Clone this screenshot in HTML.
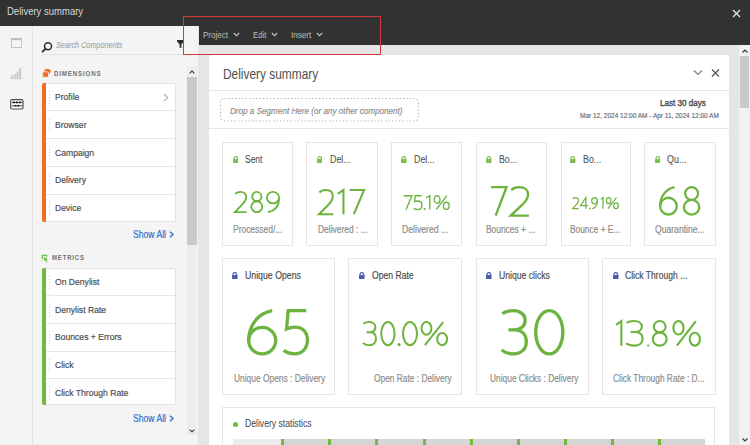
<!DOCTYPE html>
<html><head><meta charset="utf-8"><style>
html,body{margin:0;padding:0;width:750px;height:445px;overflow:hidden;background:#e5e5e5;font-family:"Liberation Sans",sans-serif;}
.a{position:absolute;box-sizing:border-box;}
.t{position:absolute;white-space:nowrap;transform-origin:0 0;font-family:"Liberation Sans",sans-serif;}
</style></head><body>
<!-- header -->
<div class="a" style="left:0;top:0;width:750px;height:26px;background:#323232"></div>
<svg class="a" style="left:732px;top:9px" width="9" height="9" viewBox="0 0 9 9"><path d="M1 1L8 8M8 1L1 8" stroke="#e6e6e6" stroke-width="1.3"/></svg>
<!-- left rail -->
<div class="a" style="left:0;top:26px;width:33px;height:419px;background:#f4f4f4;border-right:1px solid #e4e4e4"></div>
<svg class="a" style="left:11px;top:38px" width="11" height="10" viewBox="0 0 11 10"><rect x="0.5" y="0.5" width="10" height="9" fill="none" stroke="#c4c4c4"/><rect x="0.5" y="0.5" width="10" height="1.6" fill="#bdbdbd"/></svg>
<svg class="a" style="left:10px;top:67px" width="13" height="13" viewBox="0 0 13 13"><g fill="#c8c8c8"><rect x="1" y="8.5" width="2" height="2.5"/><rect x="3.8" y="7" width="2" height="4"/><rect x="6.5" y="4.5" width="2" height="6.5"/><rect x="9.2" y="1" width="2" height="10"/><rect x="0.5" y="11.2" width="11.5" height="1"/></g></svg>
<svg class="a" style="left:10px;top:98.5px" width="14" height="11" viewBox="0 0 14 11"><rect x="0.7" y="0.7" width="12.3" height="9.3" rx="1.5" fill="#fff" stroke="#4a4a4a" stroke-width="1.2"/><g stroke="#3a3a3a" stroke-width="1"><line x1="2" y1="3.5" x2="12" y2="3.5"/><line x1="2" y1="6.8" x2="12" y2="6.8"/></g><g fill="#2a2a2a"><circle cx="3.8" cy="3.4" r="1.1"/><circle cx="6.8" cy="3.4" r="1.1"/><circle cx="9.9" cy="3.4" r="1.1"/><circle cx="5.5" cy="6.8" r="1"/><circle cx="8.3" cy="6.8" r="1"/></g></svg>
<!-- left panel -->
<div class="a" style="left:33px;top:26px;width:165px;height:419px;background:#f4f4f4"></div>
<svg class="a" style="left:41px;top:40.5px" width="12" height="12" viewBox="0 0 12 12"><circle cx="7" cy="5.2" r="3.5" fill="none" stroke="#2e2e2e" stroke-width="1.5"/><line x1="4.6" y1="7.6" x2="1.6" y2="10.6" stroke="#2e2e2e" stroke-width="1.9" stroke-linecap="round"/></svg>
<svg class="a" style="left:177px;top:39.5px" width="7" height="8.5" viewBox="0 0 7 8.5"><path d="M0 0H7V1.6L4.4 4.2V8.3L2.6 7.4V4.2L0 1.6Z" fill="#2a2a2a"/></svg>
<div class="a" style="left:42px;top:54px;width:142px;height:1px;background:#e2e2e2"></div>
<!-- dims icon -->
<svg class="a" style="left:41.5px;top:69px" width="9" height="9" viewBox="0 0 9 9"><rect x="2.3" y="0" width="6.4" height="4.4" rx="2" fill="#ef6e1f"/><path d="M0.6 3.3Q3.2 1.9 6.5 3.3V7.3Q6.5 8.2 5.6 8.2H1.5Q0.6 8.2 0.6 7.3Z" fill="#ef6e1f" stroke="#f4f4f4" stroke-width="0.7"/></svg>
<svg class="a" style="left:41px;top:253.5px" width="8" height="9" viewBox="0 0 8 9"><path d="M1.3 5.2V1.3H5.7V2.8" fill="none" stroke="#6fbe3f" stroke-width="1.3"/><path d="M2.8 2.8L7 5.3L5.4 5.8L6.5 8.1L5.6 8.6L4.5 6.3L3.3 7.3Z" fill="#6fbe3f"/></svg>
<!-- dims list -->
<div class="a" style="left:42px;top:82.5px;width:134px;height:139.3px;background:#fff;border:1px solid #e2e2e2;border-radius:2px"></div>
<div class="a" style="left:42px;top:82.5px;width:4px;height:139.3px;background:#ef6e1f;border-radius:2px 0 0 2px"></div>
<div class="a" style="left:46px;top:110.2px;width:130px;height:1px;background:#e6e6e6"></div>
<div class="a" style="left:46px;top:138.3px;width:130px;height:1px;background:#e6e6e6"></div>
<div class="a" style="left:46px;top:166.3px;width:130px;height:1px;background:#e6e6e6"></div>
<div class="a" style="left:46px;top:194.2px;width:130px;height:1px;background:#e6e6e6"></div>
<svg class="a" style="left:162.5px;top:92.5px" width="6" height="9" viewBox="0 0 6 9"><path d="M1 1L4.7 4.5L1 8" fill="none" stroke="#bcbcbc" stroke-width="1.4"/></svg>
<!-- metrics list -->
<div class="a" style="left:42px;top:267.5px;width:134px;height:137.8px;background:#fff;border:1px solid #e2e2e2;border-radius:2px"></div>
<div class="a" style="left:42px;top:267.5px;width:4px;height:137.8px;background:#6fba3f;border-radius:2px 0 0 2px"></div>
<div class="a" style="left:46px;top:295.3px;width:130px;height:1px;background:#e6e6e6"></div>
<div class="a" style="left:46px;top:322.9px;width:130px;height:1px;background:#e6e6e6"></div>
<div class="a" style="left:46px;top:350.6px;width:130px;height:1px;background:#e6e6e6"></div>
<div class="a" style="left:46px;top:378.3px;width:130px;height:1px;background:#e6e6e6"></div>
<!-- grips -->
<svg class="a" style="left:49px;top:82px" width="2" height="330" viewBox="0 0 2 330">
<g fill="#c8c8c8" id="g1">
<rect x="0" y="9" width="1" height="1"/><rect x="0" y="12" width="1" height="1"/><rect x="0" y="15" width="1" height="1"/><rect x="0" y="18" width="1" height="1"/><rect x="0" y="21" width="1" height="1"/>
</g>
<use href="#g1" y="27.6"/><use href="#g1" y="55.2"/><use href="#g1" y="82.8"/><use href="#g1" y="110.4"/>
<use href="#g1" y="185"/><use href="#g1" y="212.6"/><use href="#g1" y="240.2"/><use href="#g1" y="267.8"/><use href="#g1" y="295.4"/>
</svg>
<svg class="a" style="left:168.5px;top:230.5px" width="5" height="7" viewBox="0 0 5 7"><path d="M1 0.8L4 3.5L1 6.2" fill="none" stroke="#2f6fce" stroke-width="1.3"/></svg>
<svg class="a" style="left:168.5px;top:414.5px" width="5" height="7" viewBox="0 0 5 7"><path d="M1 0.8L4 3.5L1 6.2" fill="none" stroke="#2f6fce" stroke-width="1.3"/></svg>
<!-- left scrollbar -->
<div class="a" style="left:187px;top:66px;width:10px;height:369px;background:#ededed"></div>
<div class="a" style="left:187px;top:77px;width:10px;height:167.5px;background:#c9c9c9"></div>
<svg class="a" style="left:189px;top:70px" width="6" height="4" viewBox="0 0 6 4"><path d="M0.6 3.4L3 1L5.4 3.4" fill="none" stroke="#3a3a3a" stroke-width="1.1"/></svg>
<svg class="a" style="left:189px;top:428.5px" width="6" height="4" viewBox="0 0 6 4"><path d="M0.6 0.6L3 3L5.4 0.6" fill="none" stroke="#444" stroke-width="1.2"/></svg>
<!-- main -->
<div class="a" style="left:199px;top:26px;width:551px;height:19px;background:#323232"></div>
<svg class="a" style="left:233px;top:32px" width="7" height="5" viewBox="0 0 7 5"><path d="M0.8 1L3.5 3.7L6.2 1" fill="none" stroke="#c4c4c4" stroke-width="1.1"/></svg>
<svg class="a" style="left:271px;top:32px" width="7" height="5" viewBox="0 0 7 5"><path d="M0.8 1L3.5 3.7L6.2 1" fill="none" stroke="#c4c4c4" stroke-width="1.1"/></svg>
<svg class="a" style="left:316px;top:32px" width="7" height="5" viewBox="0 0 7 5"><path d="M0.8 1L3.5 3.7L6.2 1" fill="none" stroke="#c4c4c4" stroke-width="1.1"/></svg>
<!-- right scrollbar -->
<div class="a" style="left:739px;top:45px;width:11px;height:400px;background:#f1f1f1"></div>
<div class="a" style="left:740px;top:56px;width:9px;height:52px;background:#c9c9c9"></div>
<svg class="a" style="left:741.5px;top:49px" width="6" height="4" viewBox="0 0 6 4"><path d="M0.5 3.5L3 1L5.5 3.5" fill="none" stroke="#333" stroke-width="1.1"/></svg>
<svg class="a" style="left:741.5px;top:438px" width="6" height="4" viewBox="0 0 6 4"><path d="M0.5 0.5L3 3L5.5 0.5" fill="none" stroke="#333" stroke-width="1.1"/></svg>
<!-- panel -->
<div class="a" style="left:208.5px;top:55px;width:520.5px;height:400px;background:#fff;border-radius:3px"></div>
<div class="a" style="left:208.5px;top:90px;width:520.5px;height:1px;background:#e8e8e8"></div>
<div class="a" style="left:208.5px;top:128px;width:520.5px;height:1px;background:#e8e8e8"></div>
<svg class="a" style="left:693px;top:69px" width="10" height="7" viewBox="0 0 10 7"><path d="M1 1.5L5 5.5L9 1.5" fill="none" stroke="#808080" stroke-width="1.2"/></svg>
<svg class="a" style="left:711px;top:69px" width="9" height="8" viewBox="0 0 9 8"><path d="M1 0.5L8 7.5M8 0.5L1 7.5" stroke="#5a5a5a" stroke-width="1.4"/></svg>
<svg class="a" style="left:219px;top:96.5px" width="202" height="26"><rect x="1.5" y="1.5" width="198" height="22.5" rx="4" fill="none" stroke="#b0b0b0" stroke-width="1.1" stroke-dasharray="1.3 2.2"/></svg>
<!-- row1 cards -->
<div class="a" style="left:222.3px;top:142.2px;width:70.6px;height:104px;border:1px solid #e6e6e6"></div>
<div class="a" style="left:306.4px;top:142.2px;width:71.2px;height:104px;border:1px solid #e6e6e6"></div>
<div class="a" style="left:391.4px;top:142.2px;width:70.4px;height:104px;border:1px solid #e6e6e6"></div>
<div class="a" style="left:476px;top:142.2px;width:70.8px;height:104px;border:1px solid #e6e6e6"></div>
<div class="a" style="left:560.8px;top:142.2px;width:70px;height:104px;border:1px solid #e6e6e6"></div>
<div class="a" style="left:644.4px;top:142.2px;width:71.4px;height:104px;border:1px solid #e6e6e6"></div>
<!-- row2 cards -->
<div class="a" style="left:222.4px;top:258.4px;width:112.8px;height:137px;border:1px solid #e6e6e6"></div>
<div class="a" style="left:348.3px;top:258.4px;width:113.8px;height:137px;border:1px solid #e6e6e6"></div>
<div class="a" style="left:476.1px;top:258.4px;width:112.6px;height:137px;border:1px solid #e6e6e6"></div>
<div class="a" style="left:602.4px;top:258.4px;width:113.4px;height:137px;border:1px solid #e6e6e6"></div>
<!-- locks -->
<svg width="0" height="0" style="position:absolute"><defs>
<g id="lk"><path d="M1.1 3.4V2.5A1.9 1.9 0 0 1 4.9 2.5V3.4" fill="none" stroke="currentColor" stroke-width="1.3"/><rect x="0" y="3.1" width="6" height="4.1" rx="0.6" fill="currentColor"/></g>
</defs></svg>
<svg class="a" style="left:232.5px;top:156.0px;color:#7cc052" width="5.5" height="6.9" viewBox="0 0 6 7.2" preserveAspectRatio="none"><use href="#lk"/></svg>
<svg class="a" style="left:316.8px;top:156.0px;color:#7cc052" width="5.5" height="6.9" viewBox="0 0 6 7.2" preserveAspectRatio="none"><use href="#lk"/></svg>
<svg class="a" style="left:401.3px;top:156.0px;color:#7cc052" width="5.5" height="6.9" viewBox="0 0 6 7.2" preserveAspectRatio="none"><use href="#lk"/></svg>
<svg class="a" style="left:486.3px;top:156.0px;color:#7cc052" width="5.5" height="6.9" viewBox="0 0 6 7.2" preserveAspectRatio="none"><use href="#lk"/></svg>
<svg class="a" style="left:570.3px;top:156.0px;color:#7cc052" width="5.5" height="6.9" viewBox="0 0 6 7.2" preserveAspectRatio="none"><use href="#lk"/></svg>
<svg class="a" style="left:654.8px;top:156.0px;color:#7cc052" width="5.5" height="6.9" viewBox="0 0 6 7.2" preserveAspectRatio="none"><use href="#lk"/></svg>
<svg class="a" style="left:232.3px;top:272.0px;color:#4a5cae" width="5.6" height="6.9" viewBox="0 0 6 7.2" preserveAspectRatio="none"><use href="#lk"/></svg>
<svg class="a" style="left:359.0px;top:272.0px;color:#4a5cae" width="5.6" height="6.9" viewBox="0 0 6 7.2" preserveAspectRatio="none"><use href="#lk"/></svg>
<svg class="a" style="left:486.0px;top:272.0px;color:#4a5cae" width="5.6" height="6.9" viewBox="0 0 6 7.2" preserveAspectRatio="none"><use href="#lk"/></svg>
<svg class="a" style="left:613.3px;top:272.0px;color:#4a5cae" width="5.6" height="6.9" viewBox="0 0 6 7.2" preserveAspectRatio="none"><use href="#lk"/></svg>
<!-- stats -->
<div class="a" style="left:222.2px;top:406.5px;width:493.1px;height:60px;border:1px solid #e6e6e6"></div>
<div class="a" style="left:232.6px;top:421.5px;width:5px;height:5px;border-radius:50%;background:#6fba3f"></div>
<div class="a" style="left:232.6px;top:439.3px;width:472.3px;height:10px;background:#d5d5d5"></div>
<div class="a" style="left:232.6px;top:439.3px;width:48.4px;height:10px;background:#ececec"></div>
<div class="a" style="left:281px;top:439.3px;width:3px;height:10px;background:#6fba3f"></div>
<div class="a" style="left:328px;top:439.3px;width:3px;height:10px;background:#6fba3f"></div>
<div class="a" style="left:375.3px;top:439.3px;width:3px;height:10px;background:#6fba3f"></div>
<div class="a" style="left:422.5px;top:439.3px;width:3px;height:10px;background:#6fba3f"></div>
<div class="a" style="left:469.5px;top:439.3px;width:3px;height:10px;background:#6fba3f"></div>
<div class="a" style="left:516.8px;top:439.3px;width:3px;height:10px;background:#6fba3f"></div>
<div class="a" style="left:563.8px;top:439.3px;width:3px;height:10px;background:#6fba3f"></div>
<div class="a" style="left:610.7px;top:439.3px;width:3px;height:10px;background:#6fba3f"></div>
<div class="a" style="left:658px;top:439.3px;width:3px;height:10px;background:#6fba3f"></div>
<!-- red highlight -->
<div class="a" style="left:183px;top:16.3px;width:198px;height:38.5px;border:1px solid #d03a3a"></div>

<span class="t" style="left:6.70px;top:5.60px;font-size:11.5px;line-height:11.5px;color:#dadada;font-weight:400;font-style:normal;transform:scaleX(0.8270);letter-spacing:0px">Delivery summary</span>
<span class="t" style="left:203.40px;top:29.50px;font-size:9.5px;line-height:9.5px;color:#bdbdbd;font-weight:400;font-style:normal;transform:scaleX(0.8420);letter-spacing:0px">Project</span>
<span class="t" style="left:253.20px;top:29.50px;font-size:9.5px;line-height:9.5px;color:#bdbdbd;font-weight:400;font-style:normal;transform:scaleX(0.8189);letter-spacing:0px">Edit</span>
<span class="t" style="left:291.10px;top:29.50px;font-size:9.5px;line-height:9.5px;color:#bdbdbd;font-weight:400;font-style:normal;transform:scaleX(0.8541);letter-spacing:0px">Insert</span>
<span class="t" style="left:56.30px;top:40.60px;font-size:9.2px;line-height:9.2px;color:#a3a3a3;font-weight:400;font-style:italic;transform:scaleX(0.7925);letter-spacing:0px;-webkit-text-stroke:0.1px #a3a3a3">Search Components</span>
<span class="t" style="left:53.90px;top:69.70px;font-size:7.3px;line-height:7.3px;color:#707070;font-weight:700;font-style:normal;transform:scaleX(0.8437);letter-spacing:1.0px">DIMENSIONS</span>
<span class="t" style="left:51.90px;top:254.30px;font-size:7.3px;line-height:7.3px;color:#707070;font-weight:700;font-style:normal;transform:scaleX(0.8237);letter-spacing:1.0px">METRICS</span>
<span class="t" style="left:55.20px;top:92.40px;font-size:9.7px;line-height:9.7px;color:#4b4b4b;font-weight:400;font-style:normal;transform:scaleX(0.8866);letter-spacing:0px;-webkit-text-stroke:0.18px #4b4b4b">Profile</span>
<span class="t" style="left:55.20px;top:120.00px;font-size:9.7px;line-height:9.7px;color:#4b4b4b;font-weight:400;font-style:normal;transform:scaleX(0.8866);letter-spacing:0px;-webkit-text-stroke:0.18px #4b4b4b">Browser</span>
<span class="t" style="left:55.20px;top:147.60px;font-size:9.7px;line-height:9.7px;color:#4b4b4b;font-weight:400;font-style:normal;transform:scaleX(0.8866);letter-spacing:0px;-webkit-text-stroke:0.18px #4b4b4b">Campaign</span>
<span class="t" style="left:55.20px;top:175.20px;font-size:9.7px;line-height:9.7px;color:#4b4b4b;font-weight:400;font-style:normal;transform:scaleX(0.8866);letter-spacing:0px;-webkit-text-stroke:0.18px #4b4b4b">Delivery</span>
<span class="t" style="left:55.20px;top:202.80px;font-size:9.7px;line-height:9.7px;color:#4b4b4b;font-weight:400;font-style:normal;transform:scaleX(0.8866);letter-spacing:0px;-webkit-text-stroke:0.18px #4b4b4b">Device</span>
<span class="t" style="left:55.00px;top:276.90px;font-size:9.7px;line-height:9.7px;color:#4b4b4b;font-weight:400;font-style:normal;transform:scaleX(0.8866);letter-spacing:0px;-webkit-text-stroke:0.18px #4b4b4b">On Denylist</span>
<span class="t" style="left:55.00px;top:304.60px;font-size:9.7px;line-height:9.7px;color:#4b4b4b;font-weight:400;font-style:normal;transform:scaleX(0.8866);letter-spacing:0px;-webkit-text-stroke:0.18px #4b4b4b">Denylist Rate</span>
<span class="t" style="left:55.00px;top:332.30px;font-size:9.7px;line-height:9.7px;color:#4b4b4b;font-weight:400;font-style:normal;transform:scaleX(0.8866);letter-spacing:0px;-webkit-text-stroke:0.18px #4b4b4b">Bounces + Errors</span>
<span class="t" style="left:55.00px;top:360.00px;font-size:9.7px;line-height:9.7px;color:#4b4b4b;font-weight:400;font-style:normal;transform:scaleX(0.8866);letter-spacing:0px;-webkit-text-stroke:0.18px #4b4b4b">Click</span>
<span class="t" style="left:55.00px;top:387.50px;font-size:9.7px;line-height:9.7px;color:#4b4b4b;font-weight:400;font-style:normal;transform:scaleX(0.8866);letter-spacing:0px;-webkit-text-stroke:0.18px #4b4b4b">Click Through Rate</span>
<span class="t" style="left:132.80px;top:229.50px;font-size:10.4px;line-height:10.4px;color:#2f6fce;font-weight:400;font-style:normal;transform:scaleX(0.8276);letter-spacing:0px;-webkit-text-stroke:0.18px #2f6fce">Show All</span>
<span class="t" style="left:132.80px;top:414.00px;font-size:10.4px;line-height:10.4px;color:#2f6fce;font-weight:400;font-style:normal;transform:scaleX(0.8276);letter-spacing:0px;-webkit-text-stroke:0.18px #2f6fce">Show All</span>
<span class="t" style="left:223.08px;top:67.10px;font-size:14.5px;line-height:14.5px;color:#505050;font-weight:400;font-style:normal;transform:scaleX(0.8206);letter-spacing:0px;-webkit-text-stroke:0.01px #505050">Delivery summary</span>
<span class="t" style="left:229.60px;top:105.60px;font-size:9.5px;line-height:9.5px;color:#8c8c8c;font-weight:400;font-style:italic;transform:scaleX(0.8554);letter-spacing:0px;-webkit-text-stroke:0.18px #8c8c8c">Drop a Segment Here (or any other component)</span>
<span class="t" style="left:660.00px;top:98.40px;font-size:9.8px;line-height:9.8px;color:#4b4b4b;font-weight:400;font-style:normal;transform:scaleX(0.8265);letter-spacing:0px;-webkit-text-stroke:0.4px #4b4b4b">Last 30 days</span>
<span class="t" style="left:580.30px;top:111.80px;font-size:7.5px;line-height:7.5px;color:#6e6e6e;font-weight:400;font-style:normal;transform:scaleX(0.8657);letter-spacing:0px;-webkit-text-stroke:0.18px #6e6e6e">Mar 12, 2024 12:00 AM - Apr 11, 2024 12:00 AM</span>
<span class="t" style="left:245.00px;top:155.00px;font-size:10px;line-height:10px;color:#555555;font-weight:400;font-style:normal;transform:scaleX(0.8464);letter-spacing:0px;-webkit-text-stroke:0.1px #555555">Sent</span>
<span class="t" style="left:329.80px;top:155.00px;font-size:10px;line-height:10px;color:#555555;font-weight:400;font-style:normal;transform:scaleX(0.8865);letter-spacing:0px;-webkit-text-stroke:0.1px #555555">Del...</span>
<span class="t" style="left:414.30px;top:155.00px;font-size:10px;line-height:10px;color:#555555;font-weight:400;font-style:normal;transform:scaleX(0.8865);letter-spacing:0px;-webkit-text-stroke:0.1px #555555">Del...</span>
<span class="t" style="left:498.70px;top:155.00px;font-size:10px;line-height:10px;color:#555555;font-weight:400;font-style:normal;transform:scaleX(0.8692);letter-spacing:0px;-webkit-text-stroke:0.1px #555555">Bo...</span>
<span class="t" style="left:583.10px;top:155.00px;font-size:10px;line-height:10px;color:#555555;font-weight:400;font-style:normal;transform:scaleX(0.8844);letter-spacing:0px;-webkit-text-stroke:0.1px #555555">Bo...</span>
<span class="t" style="left:667.10px;top:155.00px;font-size:10px;line-height:10px;color:#555555;font-weight:400;font-style:normal;transform:scaleX(0.8949);letter-spacing:0px;-webkit-text-stroke:0.1px #555555">Qu...</span>
<span class="t" style="left:232.80px;top:225.00px;font-size:10px;line-height:10px;color:#8a8a8a;font-weight:400;font-style:normal;transform:scaleX(0.8440);letter-spacing:0px;-webkit-text-stroke:0.18px #8a8a8a">Processed/...</span>
<span class="t" style="left:317.70px;top:225.00px;font-size:10px;line-height:10px;color:#8a8a8a;font-weight:400;font-style:normal;transform:scaleX(0.8446);letter-spacing:0px;-webkit-text-stroke:0.18px #8a8a8a">Delivered : ...</span>
<span class="t" style="left:401.70px;top:225.00px;font-size:10px;line-height:10px;color:#8a8a8a;font-weight:400;font-style:normal;transform:scaleX(0.8654);letter-spacing:0px;-webkit-text-stroke:0.18px #8a8a8a">Delivered ...</span>
<span class="t" style="left:486.00px;top:225.00px;font-size:10px;line-height:10px;color:#8a8a8a;font-weight:400;font-style:normal;transform:scaleX(0.8398);letter-spacing:0px;-webkit-text-stroke:0.18px #8a8a8a">Bounces + ...</span>
<span class="t" style="left:570.40px;top:225.00px;font-size:10px;line-height:10px;color:#8a8a8a;font-weight:400;font-style:normal;transform:scaleX(0.8347);letter-spacing:0px;-webkit-text-stroke:0.18px #8a8a8a">Bounce + E...</span>
<span class="t" style="left:655.30px;top:225.00px;font-size:10px;line-height:10px;color:#8a8a8a;font-weight:400;font-style:normal;transform:scaleX(0.8591);letter-spacing:0px;-webkit-text-stroke:0.18px #8a8a8a">Quarantine...</span>
<span class="t" style="left:245.30px;top:270.30px;font-size:11px;line-height:11px;color:#4b4b4b;font-weight:400;font-style:normal;transform:scaleX(0.7949);letter-spacing:0px;-webkit-text-stroke:0.18px #4b4b4b">Unique Opens</span>
<span class="t" style="left:372.00px;top:270.30px;font-size:11px;line-height:11px;color:#4b4b4b;font-weight:400;font-style:normal;transform:scaleX(0.7818);letter-spacing:0px;-webkit-text-stroke:0.18px #4b4b4b">Open Rate</span>
<span class="t" style="left:498.60px;top:270.30px;font-size:11px;line-height:11px;color:#4b4b4b;font-weight:400;font-style:normal;transform:scaleX(0.7856);letter-spacing:0px;-webkit-text-stroke:0.18px #4b4b4b">Unique clicks</span>
<span class="t" style="left:625.30px;top:270.30px;font-size:11px;line-height:11px;color:#4b4b4b;font-weight:400;font-style:normal;transform:scaleX(0.7797);letter-spacing:0px;-webkit-text-stroke:0.18px #4b4b4b">Click Through ...</span>
<span class="t" style="left:233.50px;top:373.10px;font-size:10.5px;line-height:10.5px;color:#8a8a8a;font-weight:400;font-style:normal;transform:scaleX(0.8005);letter-spacing:0px;-webkit-text-stroke:0.18px #8a8a8a">Unique Opens : Delivery</span>
<span class="t" style="left:373.70px;top:373.10px;font-size:10.5px;line-height:10.5px;color:#8a8a8a;font-weight:400;font-style:normal;transform:scaleX(0.7963);letter-spacing:0px;-webkit-text-stroke:0.18px #8a8a8a">Open Rate : Delivery</span>
<span class="t" style="left:489.50px;top:373.10px;font-size:10.5px;line-height:10.5px;color:#8a8a8a;font-weight:400;font-style:normal;transform:scaleX(0.7974);letter-spacing:0px;-webkit-text-stroke:0.18px #8a8a8a">Unique Clicks : Delivery</span>
<span class="t" style="left:612.50px;top:373.10px;font-size:10.5px;line-height:10.5px;color:#8a8a8a;font-weight:400;font-style:normal;transform:scaleX(0.7980);letter-spacing:0px;-webkit-text-stroke:0.18px #8a8a8a">Click Through Rate : D...</span>
<span class="t" style="left:245.40px;top:418.00px;font-size:10.5px;line-height:10.5px;color:#4b4b4b;font-weight:400;font-style:normal;transform:scaleX(0.8213);letter-spacing:0px;-webkit-text-stroke:0.05px #4b4b4b">Delivery statistics</span>
<svg class="a" style="left:231.00px;top:188.00px" width="52.00" height="28.00"><g fill="none" stroke="#6db33f" stroke-width="1.81"><g transform="translate(3.170 3.147) scale(0.21046 0.21705)"><path vector-effect="non-scaling-stroke" d="M5 13C11 6.5 20 3.5 30 3.5C47 3.5 57 13 57 27C57 41 50 50 40 60L3.5 96.5H59.5"/></g><g transform="translate(19.568 3.147) scale(0.21127 0.21705)"><ellipse vector-effect="non-scaling-stroke" cx="29.5" cy="25" rx="22" ry="21.5"/><ellipse vector-effect="non-scaling-stroke" cx="29.5" cy="71.5" rx="26" ry="25"/></g><g transform="translate(35.071 3.147) scale(0.23894 0.21705)"><ellipse vector-effect="non-scaling-stroke" cx="29" cy="30" rx="25.5" ry="26.5"/><path vector-effect="non-scaling-stroke" d="M54.5 30C54.5 65 38 90 8 96.5"/></g></g></svg>
<svg class="a" style="left:315.10px;top:185.70px" width="53.10" height="32.20"><g fill="none" stroke="#6db33f" stroke-width="2.07"><g transform="translate(3.142 3.129) scale(0.25581 0.25942)"><path vector-effect="non-scaling-stroke" d="M5 13C11 6.5 20 3.5 30 3.5C47 3.5 57 13 57 27C57 41 50 50 40 60L3.5 96.5H59.5"/></g><g transform="translate(21.866 3.129) scale(0.24894 0.25942)"><path vector-effect="non-scaling-stroke" d="M3.5 18L26.5 3.5V96.5"/></g><g transform="translate(33.685 3.129) scale(0.27218 0.25942)"><path vector-effect="non-scaling-stroke" d="M3.5 3.5H56.5L19 96.5"/></g></g></svg>
<svg class="a" style="left:399.60px;top:192.10px" width="52.90" height="21.20"><g fill="none" stroke="#6db33f" stroke-width="1.39"><g transform="translate(3.154 3.177) scale(0.15486 0.14847)"><path vector-effect="non-scaling-stroke" d="M3.5 3.5H56.5L19 96.5"/></g><g transform="translate(13.126 3.177) scale(0.16289 0.14847)"><path vector-effect="non-scaling-stroke" d="M52 3.5H13L9.5 43C15 40.5 21.5 39 28 39C44 39 54.5 50 54.5 67.5C54.5 85 43 96.5 27 96.5C18 96.5 9 94 3.5 89"/></g><circle cx="24.55" cy="17.05" r="1.15" fill="#6db33f" stroke="none"/><g transform="translate(25.417 3.177) scale(0.16555 0.14847)"><path vector-effect="non-scaling-stroke" d="M3.5 18L26.5 3.5V96.5"/></g><g transform="translate(33.676 3.177) scale(0.14859 0.14847)"><ellipse vector-effect="non-scaling-stroke" cx="23" cy="29" rx="19.5" ry="25.5"/><ellipse vector-effect="non-scaling-stroke" cx="85" cy="72" rx="19.5" ry="24.5"/><path vector-effect="non-scaling-stroke" d="M89 3.5L17 96.5"/></g></g></svg>
<svg class="a" style="left:487.40px;top:182.60px" width="46.10" height="36.80"><g fill="none" stroke="#6db33f" stroke-width="2.36"><g transform="translate(3.167 3.109) scale(0.28944 0.30581)"><path vector-effect="non-scaling-stroke" d="M3.5 3.5H56.5L19 96.5"/></g><g transform="translate(22.646 3.109) scale(0.32394 0.30581)"><path vector-effect="non-scaling-stroke" d="M5 13C11 6.5 20 3.5 30 3.5C47 3.5 57 13 57 27C57 41 50 50 40 60L3.5 96.5H59.5"/></g></g></svg>
<svg class="a" style="left:568.70px;top:194.40px" width="52.90" height="18.30"><g fill="none" stroke="#6db33f" stroke-width="1.21"><g transform="translate(3.226 3.189) scale(0.10870 0.11922)"><path vector-effect="non-scaling-stroke" d="M5 13C11 6.5 20 3.5 30 3.5C47 3.5 57 13 57 27C57 41 50 50 40 60L3.5 96.5H59.5"/></g><g transform="translate(11.174 3.189) scale(0.12352 0.11922)"><path vector-effect="non-scaling-stroke" d="M46 96.5V3.5L3.5 70H62.5"/></g><circle cx="20.70" cy="14.40" r="0.90" fill="#6db33f" stroke="none"/><g transform="translate(22.323 3.189) scale(0.10956 0.11922)"><ellipse vector-effect="non-scaling-stroke" cx="29" cy="30" rx="25.5" ry="26.5"/><path vector-effect="non-scaling-stroke" d="M54.5 30C54.5 65 38 90 8 96.5"/></g><g transform="translate(31.589 3.189) scale(0.09076 0.11922)"><path vector-effect="non-scaling-stroke" d="M3.5 18L26.5 3.5V96.5"/></g><g transform="translate(36.994 3.189) scale(0.11770 0.11922)"><ellipse vector-effect="non-scaling-stroke" cx="23" cy="29" rx="19.5" ry="25.5"/><ellipse vector-effect="non-scaling-stroke" cx="85" cy="72" rx="19.5" ry="24.5"/><path vector-effect="non-scaling-stroke" d="M89 3.5L17 96.5"/></g></g></svg>
<svg class="a" style="left:655.50px;top:183.30px" width="47.40" height="35.70"><g fill="none" stroke="#6db33f" stroke-width="2.29"><g transform="translate(3.126 3.114) scale(0.29138 0.29472)"><ellipse vector-effect="non-scaling-stroke" cx="32" cy="68" rx="28.5" ry="28.5"/><path vector-effect="non-scaling-stroke" d="M53 3.5C25 9 3.5 33 3.5 68"/></g><g transform="translate(26.915 3.114) scale(0.29440 0.29472)"><ellipse vector-effect="non-scaling-stroke" cx="29.5" cy="25" rx="22" ry="21.5"/><ellipse vector-effect="non-scaling-stroke" cx="29.5" cy="71.5" rx="26" ry="25"/></g></g></svg>
<svg class="a" style="left:244.40px;top:305.80px" width="68.10" height="52.50"><g fill="none" stroke="#6db33f" stroke-width="3.33"><g transform="translate(3.004 3.042) scale(0.47486 0.46416)"><ellipse vector-effect="non-scaling-stroke" cx="32" cy="68" rx="28.5" ry="28.5"/><path vector-effect="non-scaling-stroke" d="M53 3.5C25 9 3.5 33 3.5 68"/></g><g transform="translate(38.142 3.042) scale(0.46406 0.46416)"><path vector-effect="non-scaling-stroke" d="M52 3.5H13L9.5 43C15 40.5 21.5 39 28 39C44 39 54.5 50 54.5 67.5C54.5 85 43 96.5 27 96.5C18 96.5 9 94 3.5 89"/></g></g></svg>
<svg class="a" style="left:359.10px;top:317.80px" width="92.10" height="31.20"><g fill="none" stroke="#6db33f" stroke-width="2.01"><g transform="translate(3.149 3.134) scale(0.24505 0.24933)"><path vector-effect="non-scaling-stroke" d="M5 10C11 5.5 19 3.5 28 3.5C44 3.5 54 12 54 24C54 37 44 45 30 45H18M30 45C47 45 56.5 55 56.5 70C56.5 87 45 96.5 29 96.5C19 96.5 9.5 93.5 3.5 88"/></g><g transform="translate(21.354 3.134) scale(0.24341 0.24933)"><ellipse vector-effect="non-scaling-stroke" cx="31" cy="50" rx="27.5" ry="46.5"/></g><circle cx="40.10" cy="26.60" r="1.60" fill="#6db33f" stroke="none"/><g transform="translate(43.116 3.134) scale(0.25432 0.24933)"><ellipse vector-effect="non-scaling-stroke" cx="31" cy="50" rx="27.5" ry="46.5"/></g><g transform="translate(61.620 3.134) scale(0.25334 0.24933)"><ellipse vector-effect="non-scaling-stroke" cx="23" cy="29" rx="19.5" ry="25.5"/><ellipse vector-effect="non-scaling-stroke" cx="85" cy="72" rx="19.5" ry="24.5"/><path vector-effect="non-scaling-stroke" d="M89 3.5L17 96.5"/></g></g></svg>
<svg class="a" style="left:496.70px;top:305.80px" width="70.50" height="52.50"><g fill="none" stroke="#6db33f" stroke-width="3.33"><g transform="translate(3.038 3.042) scale(0.46542 0.46416)"><path vector-effect="non-scaling-stroke" d="M5 10C11 5.5 19 3.5 28 3.5C44 3.5 54 12 54 24C54 37 44 45 30 45H18M30 45C47 45 56.5 55 56.5 70C56.5 87 45 96.5 29 96.5C19 96.5 9.5 93.5 3.5 88"/></g><g transform="translate(37.044 3.042) scale(0.49213 0.46416)"><ellipse vector-effect="non-scaling-stroke" cx="31" cy="50" rx="27.5" ry="46.5"/></g></g></svg>
<svg class="a" style="left:612.30px;top:317.30px" width="92.00" height="32.70"><g fill="none" stroke="#6db33f" stroke-width="2.11"><g transform="translate(3.247 3.127) scale(0.23020 0.26446)"><path vector-effect="non-scaling-stroke" d="M3.5 18L26.5 3.5V96.5"/></g><g transform="translate(12.957 3.127) scale(0.31311 0.26446)"><path vector-effect="non-scaling-stroke" d="M5 10C11 5.5 19 3.5 28 3.5C44 3.5 54 12 54 24C54 37 44 45 30 45H18M30 45C47 45 56.5 55 56.5 70C56.5 87 45 96.5 29 96.5C19 96.5 9.5 93.5 3.5 88"/></g><circle cx="36.15" cy="28.55" r="1.15" fill="#6db33f" stroke="none"/><g transform="translate(39.817 3.127) scale(0.26720 0.26446)"><ellipse vector-effect="non-scaling-stroke" cx="29.5" cy="25" rx="22" ry="21.5"/><ellipse vector-effect="non-scaling-stroke" cx="29.5" cy="71.5" rx="26" ry="25"/></g><g transform="translate(60.431 3.127) scale(0.26331 0.26446)"><ellipse vector-effect="non-scaling-stroke" cx="23" cy="29" rx="19.5" ry="25.5"/><ellipse vector-effect="non-scaling-stroke" cx="85" cy="72" rx="19.5" ry="24.5"/><path vector-effect="non-scaling-stroke" d="M89 3.5L17 96.5"/></g></g></svg>
</body></html>
